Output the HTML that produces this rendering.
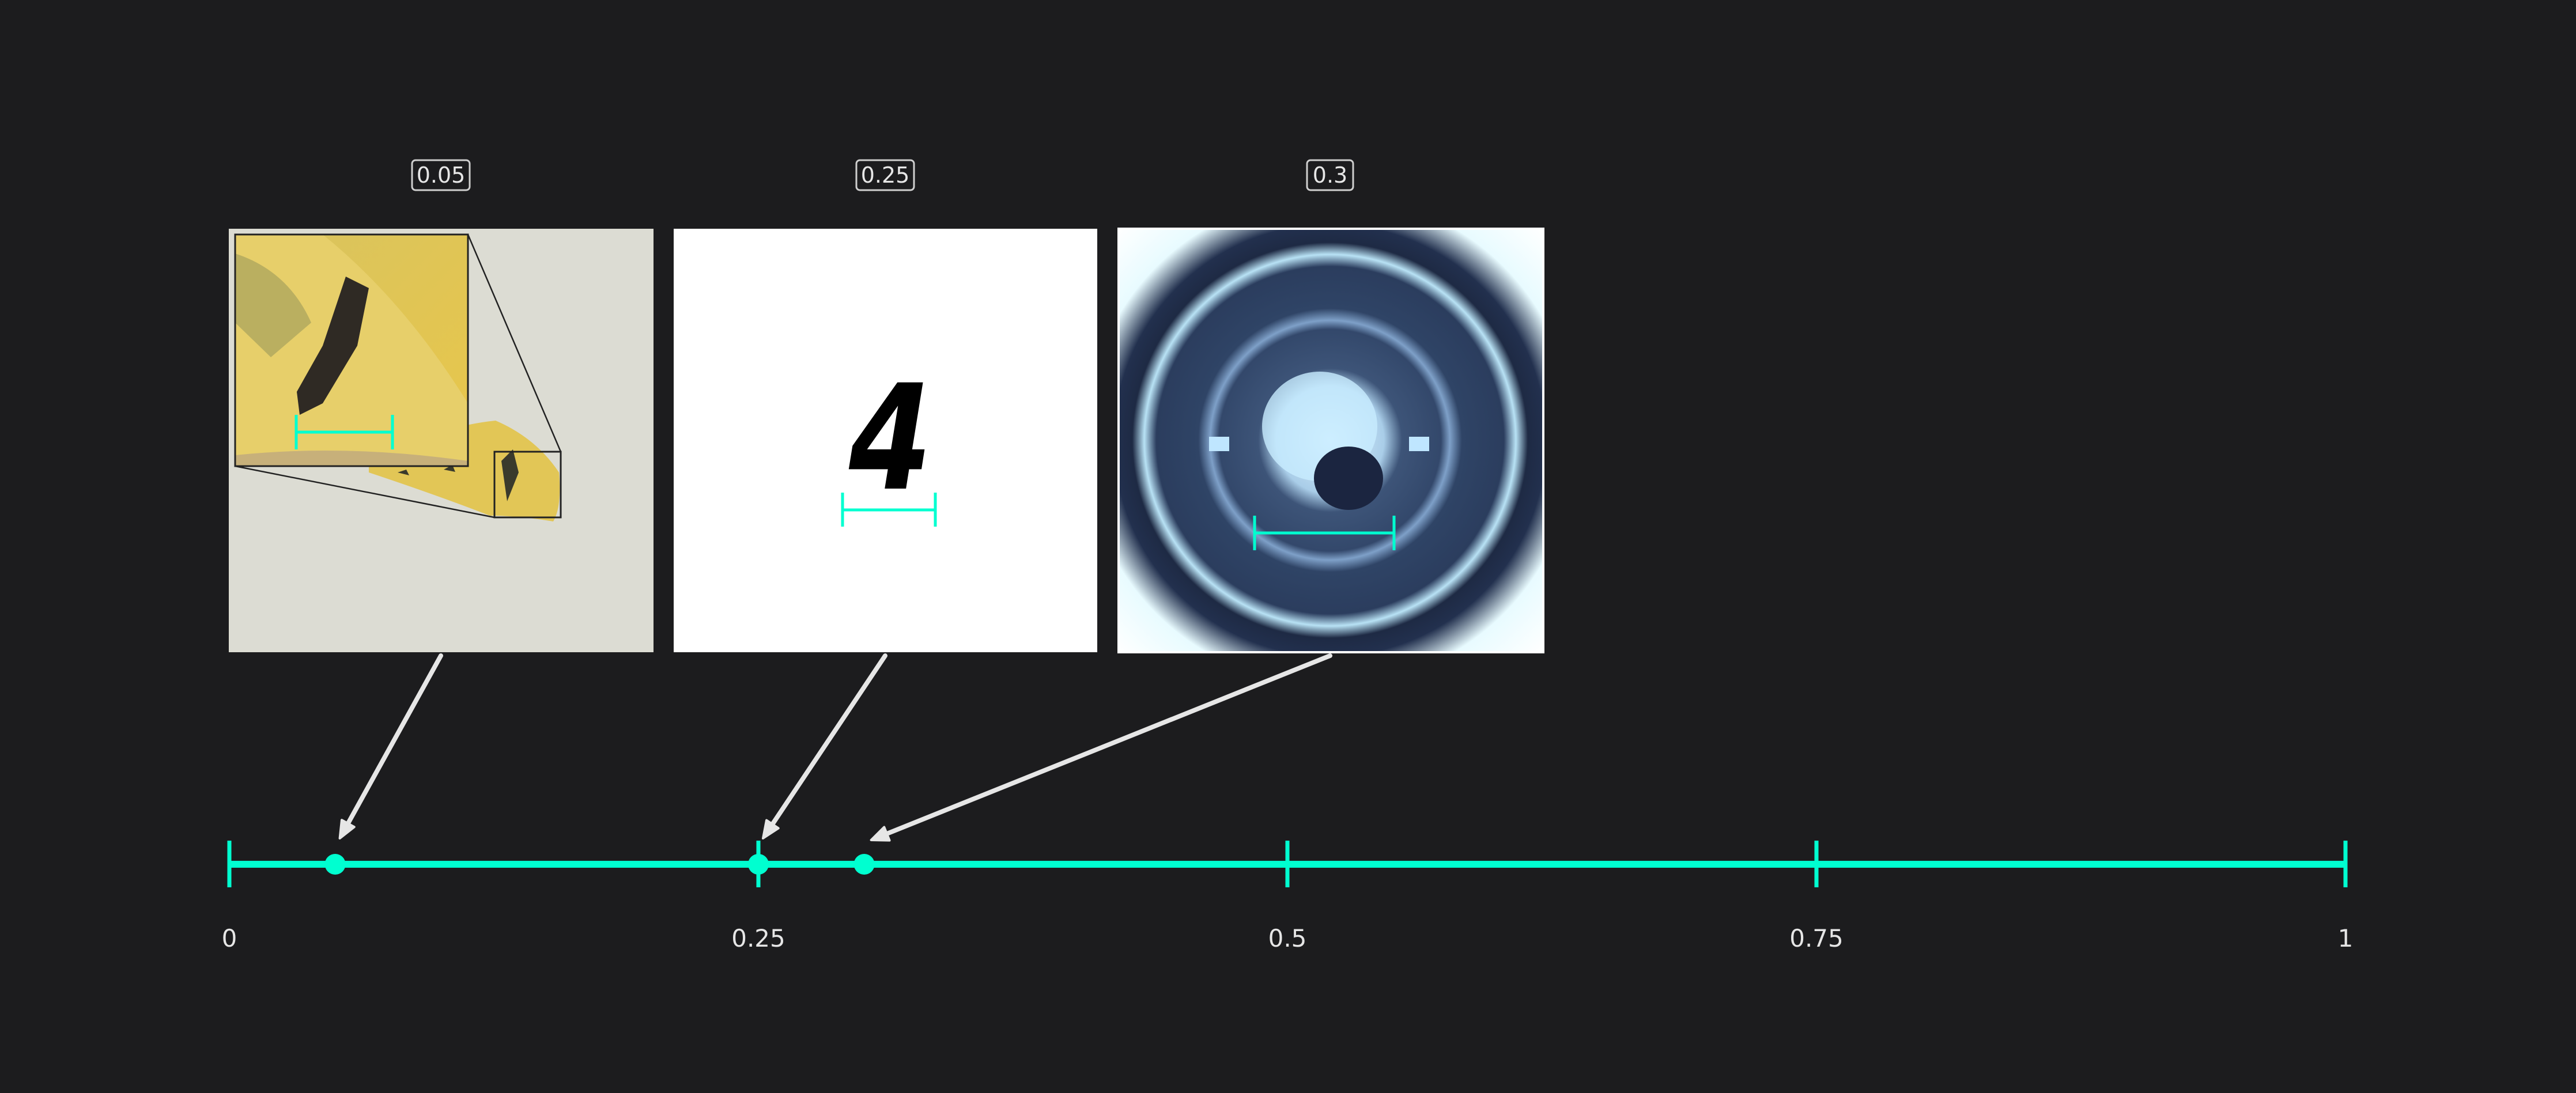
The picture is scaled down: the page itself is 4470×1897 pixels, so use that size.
<!DOCTYPE html>
<html><head><meta charset="utf-8"><style>
html,body{margin:0;padding:0;background:#1c1c1e;}
svg{display:block;}
text{font-family:"DejaVu Sans","Liberation Sans",sans-serif;}
</style></head><body>
<svg id="chart" width="4470" height="1897" viewBox="0 0 4470 1897" xmlns="http://www.w3.org/2000/svg">
<defs>
<radialGradient id="lensGrad" cx="2308" cy="764" r="520" gradientUnits="userSpaceOnUse">
<stop offset="0" stop-color="#dff4ff"/>
<stop offset="0.18" stop-color="#a9cde8"/>
<stop offset="0.24" stop-color="#3d5478"/>
<stop offset="0.37" stop-color="#33486b"/>
<stop offset="0.40" stop-color="#7ea0c8"/>
<stop offset="0.44" stop-color="#2f4466"/>
<stop offset="0.58" stop-color="#2b3d5e"/>
<stop offset="0.62" stop-color="#b8e2f5"/>
<stop offset="0.66" stop-color="#1e2a44"/>
<stop offset="0.72" stop-color="#22304e"/>
<stop offset="0.82" stop-color="#e8fbff"/>
<stop offset="1" stop-color="#ffffff"/>
</radialGradient>
<linearGradient id="chipGrad" x1="0" y1="0" x2="1" y2="1">
<stop offset="0" stop-color="#d8c460"/><stop offset="1" stop-color="#e8c64a"/>
</linearGradient>
<clipPath id="insetClip"><rect x="408" y="407" width="404" height="402"/></clipPath>
</defs>
<rect x="0" y="0" width="4470" height="1897" fill="#1c1c1e"/>

<g>
<rect x="397" y="397" width="737" height="735" fill="#dcdcd3"/>
<path d="M640 800 Q760 740 860 730 Q930 760 970 820 Q975 880 960 905 Q900 895 850 895 Q760 860 640 820 Z" fill="#e2c656"/>
<path d="M870 800 l20 -20 l10 40 l-20 50 z" fill="#3a3a2c"/>
<path d="M690 820 l15 -5 l5 10 z M770 815 l15 -8 l5 12 z" fill="#3a3a2c"/>
</g>
<g>
<g clip-path="url(#insetClip)">
<rect x="408" y="407" width="404" height="402" fill="url(#chipGrad)"/>
<path d="M408 407 L560 407 Q700 520 812 700 L812 809 L408 809 Z" fill="#e7cf6a"/>
<path d="M408 440 Q500 470 540 560 L470 620 L408 560 Z" fill="#9c9a5a" opacity="0.6"/>
<path d="M600 480 L640 500 L620 600 L560 700 L520 720 L515 680 L560 600 Z" fill="#2f2a24"/>
<path d="M408 790 Q600 770 812 800 L812 809 L408 809 Z" fill="#c7b07a"/>
</g>
<rect x="408" y="407" width="404" height="402" fill="none" stroke="#222" stroke-width="3"/>
<rect x="858" y="784" width="115" height="114" fill="none" stroke="#222" stroke-width="3"/>
<line x1="812" y1="407" x2="973" y2="784" stroke="#222" stroke-width="2.5"/>
<line x1="408" y1="809" x2="858" y2="898" stroke="#222" stroke-width="2.5"/>
<g stroke="#00ffd0" stroke-width="5">
<line x1="514" y1="750" x2="681" y2="750"/><line x1="514" y1="720" x2="514" y2="780"/><line x1="681" y1="720" x2="681" y2="780"/>
</g>
</g>

<g>
<rect x="1169" y="397" width="735" height="735" fill="#ffffff"/>
<text x="1545" y="840" font-size="230" font-style="italic" font-weight="bold" text-anchor="middle" fill="#000" font-family="Liberation Serif, serif" transform="translate(1545 760) scale(0.9 1.1) translate(-1545 -760)">4</text>
<g stroke="#00ffd0" stroke-width="5">
<line x1="1462" y1="885" x2="1623" y2="885"/><line x1="1462" y1="855" x2="1462" y2="914"/><line x1="1623" y1="855" x2="1623" y2="914"/>
</g>
</g>

<g>
<rect x="1941" y="397" width="737" height="735" fill="url(#lensGrad)" stroke="#fff" stroke-width="4"/>
<ellipse cx="2290" cy="740" rx="100" ry="95" fill="#c8ecff" opacity="0.8"/>
<ellipse cx="2340" cy="830" rx="60" ry="55" fill="#1b2540"/>
<rect x="2098" y="758" width="35" height="25" fill="#bfe6ff"/>
<rect x="2445" y="758" width="35" height="25" fill="#bfe6ff"/>
<g stroke="#00ffd0" stroke-width="5">
<line x1="2177" y1="925" x2="2419" y2="925"/><line x1="2177" y1="895" x2="2177" y2="955"/><line x1="2419" y1="895" x2="2419" y2="955"/>
</g>
</g>

<g id="axisLayer"></g>
<g id="markLayer"></g>
</svg>
<script>
const tickValues = [0, 0.25, 0.5, 0.75, 1];
const tickLabels = ["0", "0.25", "0.5", "0.75", "1"];
const pointValues = [0.05, 0.25, 0.3];
const pointLabels = ["0.05", "0.25", "0.3"];

const NS = "http://www.w3.org/2000/svg";
const X0 = 398, X1 = 4070, AY = 1500;
function xScale(v){ return X0 + v * (X1 - X0); }
const imgCenters = [765, 1536, 2308];
function mk(tag, attrs, parent){
  const e = document.createElementNS(NS, tag);
  for (const k in attrs) e.setAttribute(k, attrs[k]);
  parent.appendChild(e); return e;
}
const axis = document.getElementById("axisLayer");
const marks = document.getElementById("markLayer");

const line = mk("line", {x1: xScale(0), y1: AY, x2: xScale(1), y2: AY, stroke: "#00ffd0", "stroke-width": 12}, axis);



tickValues.forEach((v, i) => {
  const t = mk("line", {x1: xScale(v), y1: AY - 41, x2: xScale(v), y2: AY + 40, stroke: "#00ffd0", "stroke-width": 7}, axis);
  
  
  const l = mk("text", {x: xScale(v), y: AY + 143, "font-size": 42, fill: "#e6e6e6", "text-anchor": "middle"}, axis);
  l.textContent = tickLabels[i];
  
  
});

pointValues.forEach((v, i) => {
  const cx = xScale(v), ix = imgCenters[i];
  const tipX = cx + (i === 2 ? 12 : 8), tipY = AY - (i === 2 ? 42 : 45);
  const sx = ix, sy = 1138;
  const ang = Math.atan2(tipY - sy, tipX - sx);
  const a = mk("line", {x1: sx, y1: sy, x2: tipX - 14*Math.cos(ang), y2: tipY - 14*Math.sin(ang), stroke: "#e6e6e6", "stroke-width": 8, "stroke-linecap": "round"}, marks);
  
  
  const hl = 32, hw = 0.4;
  const p1 = [tipX - hl*Math.cos(ang - hw), tipY - hl*Math.sin(ang - hw)];
  const p2 = [tipX - hl*Math.cos(ang + hw), tipY - hl*Math.sin(ang + hw)];
  const h = mk("polygon", {points: `${p1[0]},${p1[1]} ${tipX},${tipY} ${p2[0]},${p2[1]}`, fill: "#e6e6e6", stroke: "#e6e6e6", "stroke-width": 4, "stroke-linejoin": "round"}, marks);
  
  
  const d = mk("circle", {cx: cx, cy: AY, r: 18, fill: "#00ffd0"}, marks);
  
  
  const w = pointLabels[i].length * 20 + 20;
  const b = mk("rect", {x: ix - w/2, y: 278, width: w, height: 52, rx: 6, fill: "#1c1c1e", stroke: "#cfcfcf", "stroke-width": 3}, marks);
  
  
  const t = mk("text", {x: ix, y: 317, "font-size": 38, fill: "#e6e6e6", "text-anchor": "middle"}, marks);
  t.textContent = pointLabels[i];
  
  
});
</script>
</body></html>
